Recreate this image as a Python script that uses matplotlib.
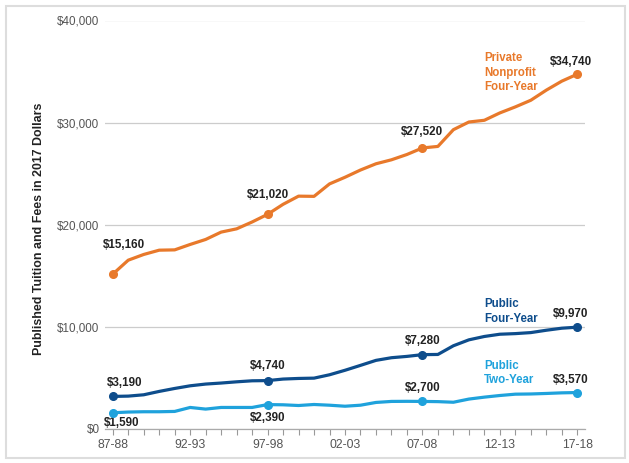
import matplotlib
matplotlib.use("Agg")
import matplotlib.pyplot as plt
from matplotlib.patches import Rectangle

years = ["87-88", "88-89", "89-90", "90-91", "91-92", "92-93", "93-94", "94-95", "95-96", "96-97",
         "97-98", "98-99", "99-00", "00-01", "01-02", "02-03", "03-04", "04-05", "05-06", "06-07",
         "07-08", "08-09", "09-10", "10-11", "11-12", "12-13", "13-14", "14-15", "15-16", "16-17", "17-18"]
tick_labels = ["87-88", "92-93", "97-98", "02-03", "07-08", "12-13", "17-18"]

private_4yr = [15160, 16530, 17090, 17510, 17540, 18070, 18560, 19280, 19600, 20270,
               21020, 22000, 22800, 22780, 24000, 24650, 25360, 25970, 26360, 26880,
               27520, 27670, 29310, 30060, 30230, 30950, 31540, 32190, 33180, 34060, 34740]
public_4yr = [3190, 3220, 3350, 3680, 3970, 4230, 4400, 4500, 4620, 4720,
              4740, 4890, 4950, 4980, 5310, 5750, 6230, 6720, 6980, 7110,
              7280, 7300, 8150, 8730, 9060, 9280, 9340, 9440, 9670, 9870, 9970]
public_2yr = [1590, 1660, 1690, 1690, 1720, 2110, 1950, 2110, 2110, 2110,
              2390, 2370, 2300, 2400, 2330, 2230, 2330, 2600, 2700, 2710,
              2700, 2680, 2620, 2930, 3120, 3280, 3410, 3430, 3480, 3540, 3570]

series_names = ["Private\nNonprofit\nFour-Year", "Public\nFour-Year", "Public\nTwo-Year"]
colors = ["#E8792B", "#0E4D8C", "#1FA2DC"]
label_idx = [0, 10, 20, 30]

fig = plt.figure(figsize=(6.29, 4.63), dpi=100)
ax = fig.add_axes([105/629, 1-429/463, 480/629, (429-20.5)/463])

x = list(range(len(years)))
SANS = ["Liberation Sans", "DejaVu Sans"]

# label offsets in pixels (dx, dy up)
offsets = {
    0: [(11.6, 29), (12, 13.7), (8.5, -10.7)],
    10: [(0, 19), (0, 14.3), (0, -13.7)],
    20: [(0, 15.6), (0, 13.3), (0, 13.3)],
    30: [(-6.7, 12.3), (-6.7, 13.6), (-6.7, 13)],
}

for s, (vals, col) in enumerate(zip([private_4yr, public_4yr, public_2yr], colors)):
    ax.plot(x, vals, color=col, lw=2.3, solid_capstyle="round", solid_joinstyle="round", zorder=3)
    ax.plot([x[i] for i in label_idx], [vals[i] for i in label_idx], "o", color=col,
            ms=5.5, zorder=4)
    for i in label_idx:
        dx, dy = offsets[i][s]
        ax.annotate(f"${vals[i]:,}", (x[i], vals[i]), xytext=(dx*0.72, dy*0.72),
                    textcoords="offset points", ha="center", va="center",
                    fontsize=8.4, fontweight="bold", color="#222222", family=SANS)

label_y = [34890, 11505, 5450]
for name, col, yv in zip(series_names, colors, label_y):
    ax.text(24.0, yv, name, color=col, fontsize=8.3, fontweight="bold", family=SANS,
            ha="left", va="center", linespacing=1.25)

ax.set_xlim(-0.5, 30.5)
ax.set_ylim(0, 40000)
ax.set_yticks([0, 10000, 20000, 30000, 40000])
ax.set_yticklabels([f"${v:,}" for v in [0, 10000, 20000, 30000, 40000]],
                   family=SANS, fontsize=8.4, color="#555555")
ax.set_xticks(x, minor=True)
ax.set_xticks([years.index(t) for t in tick_labels])
ax.set_xticklabels(tick_labels, family=SANS, fontsize=8.8, color="#555555")
ax.tick_params(axis="y", length=0, pad=4)
ax.tick_params(axis="x", which="both", length=4, width=0.8, color="#999999", pad=3, direction="out")
ax.grid(axis="y", color="#cccccc", lw=0.9)
ax.set_axisbelow(True)
for sp in ["top", "right", "left"]:
    ax.spines[sp].set_visible(False)
ax.spines["bottom"].set_color("#aaaaaa")
ax.spines["bottom"].set_linewidth(0.9)

ax.set_ylabel("Published Tuition and Fees in 2017 Dollars", fontsize=8.9, fontweight="bold",
              family=SANS, color="#222222")
ax.yaxis.set_label_coords((45-105)/480, 0.49)

fig.patches.append(Rectangle((6/629, 1-458/463), (625-6)/629, (458-6)/463,
                             transform=fig.transFigure, fill=False, edgecolor="#dddddd", lw=1.5))

fig.savefig("out.png", dpi=100)
